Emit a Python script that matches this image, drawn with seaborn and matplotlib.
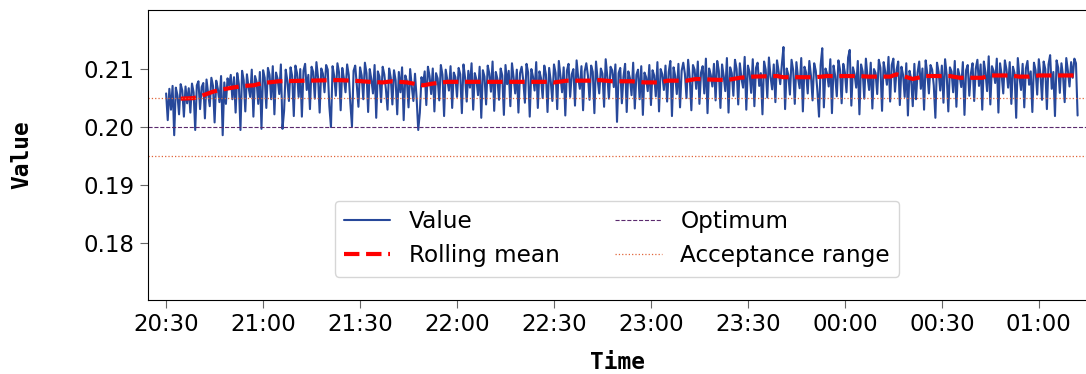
import pandas as pd
import matplotlib
matplotlib.use('Agg')
import matplotlib.pyplot as plt
import matplotlib.dates as mdates
import seaborn as sns

# raw readings, one every 30 s starting 20:30
values = [
    0.2058, 0.2012, 0.2066, 0.2030, 0.2071, 0.1986, 0.2068, 0.2055, 0.2022, 0.2074, 0.2063, 0.2018, 0.2070, 0.2041, 0.2067, 0.2025, 0.2075, 0.2060, 0.1995, 0.2072,
    0.2079, 0.2031, 0.2069, 0.2076, 0.2015, 0.2082, 0.2058, 0.2036, 0.2085, 0.2071, 0.2008, 0.2080, 0.2066, 0.2043, 0.2088, 0.1986, 0.2077, 0.2040, 0.2084, 0.2072,
    0.2090, 0.2048, 0.2086, 0.2025, 0.2093, 0.2074, 0.1995, 0.2097, 0.2081, 0.2027, 0.2091, 0.2069, 0.2052, 0.2099, 0.2018, 0.2088, 0.2078, 0.2040, 0.2095, 0.1997,
    0.2098, 0.2085, 0.2033, 0.2102, 0.2090, 0.2048, 0.2105, 0.2022, 0.2094, 0.2083, 0.2057, 0.2108, 0.1997, 0.2028, 0.2099, 0.2080, 0.2045, 0.2103, 0.2088, 0.2019,
    0.2106, 0.2093, 0.2052, 0.2100, 0.2018, 0.2097, 0.2109, 0.2064, 0.2090, 0.2031, 0.2104, 0.2095, 0.2049, 0.2112, 0.2086, 0.2025, 0.2101, 0.2092, 0.2060, 0.2107,
    0.2099, 0.2036, 0.2000, 0.2105, 0.2088, 0.2054, 0.2110, 0.2094, 0.2029, 0.2102, 0.2084, 0.2060, 0.2108, 0.2090, 0.2041, 0.2001, 0.2097, 0.2106, 0.2072, 0.2035,
    0.2103, 0.2089, 0.2048, 0.2111, 0.2093, 0.2026, 0.2100, 0.2082, 0.2058, 0.2107, 0.2016, 0.2096, 0.2087, 0.2043, 0.2104, 0.2091, 0.2065, 0.2030, 0.2101, 0.2085,
    0.2039, 0.2098, 0.2081, 0.2022, 0.2095, 0.2060, 0.2103, 0.2012, 0.2089, 0.2079, 0.2034, 0.2100, 0.2070, 0.2045, 0.2092, 0.2050, 0.1995, 0.2025, 0.2086, 0.2074,
    0.2096, 0.2038, 0.2104, 0.2088, 0.2057, 0.2101, 0.2027, 0.2093, 0.2084, 0.2046, 0.2107, 0.2090, 0.2019, 0.2099, 0.2081, 0.2063, 0.2105, 0.2033, 0.2094, 0.2086,
    0.2052, 0.2102, 0.2091, 0.2024, 0.2108, 0.2085, 0.2044, 0.2097, 0.2068, 0.2110, 0.2030, 0.2093, 0.2082, 0.2055, 0.2104, 0.2016, 0.2098, 0.2087, 0.2039, 0.2106,
    0.2092, 0.2061, 0.2113, 0.2028, 0.2095, 0.2083, 0.2047, 0.2101, 0.2089, 0.2021, 0.2107, 0.2074, 0.2097, 0.2036, 0.2110, 0.2086, 0.2058, 0.2099, 0.2025, 0.2093,
    0.2104, 0.2080, 0.2042, 0.2109, 0.2094, 0.2018, 0.2100, 0.2087, 0.2063, 0.2112, 0.2033, 0.2096, 0.2084, 0.2050, 0.2106, 0.2091, 0.2026, 0.2102, 0.2079, 0.2045,
    0.2108, 0.2093, 0.2031, 0.2114, 0.2088, 0.2060, 0.2103, 0.2020, 0.2097, 0.2109, 0.2052, 0.2091, 0.2100, 0.2037, 0.2115, 0.2085, 0.2066, 0.2105, 0.2029, 0.2096,
    0.2110, 0.2089, 0.2047, 0.2106, 0.2095, 0.2024, 0.2113, 0.2082, 0.2058, 0.2101, 0.2092, 0.2035, 0.2117, 0.2087, 0.2049, 0.2104, 0.2098, 0.2069, 0.2108, 0.2009,
    0.2093, 0.2102, 0.2041, 0.2087, 0.2109, 0.2026, 0.2096, 0.2084, 0.2055, 0.2111, 0.2032, 0.2090, 0.2099, 0.2048, 0.2105, 0.2021, 0.2094, 0.2086, 0.2062, 0.2107,
    0.2038, 0.2098, 0.2089, 0.2053, 0.2112, 0.2027, 0.2100, 0.2091, 0.2064, 0.2106, 0.2044, 0.2095, 0.2114, 0.2019, 0.2103, 0.2088, 0.2057, 0.2109, 0.2034, 0.2097,
    0.2111, 0.2092, 0.2050, 0.2116, 0.2085, 0.2029, 0.2107, 0.2099, 0.2066, 0.2113, 0.2040, 0.2094, 0.2105, 0.2058, 0.2118, 0.2024, 0.2101, 0.2090, 0.2070, 0.2109,
    0.2046, 0.2114, 0.2097, 0.2033, 0.2108, 0.2088, 0.2062, 0.2119, 0.2025, 0.2103, 0.2093, 0.2054, 0.2116, 0.2100, 0.2039, 0.2110, 0.2084, 0.2068, 0.2121, 0.2030,
    0.2106, 0.2095, 0.2059, 0.2117, 0.2036, 0.2102, 0.2111, 0.2071, 0.2093, 0.2022, 0.2113, 0.2099, 0.2051, 0.2120, 0.2087, 0.2065, 0.2108, 0.2043, 0.2115, 0.2096,
    0.2074, 0.2108, 0.2138, 0.2031, 0.2101, 0.2090, 0.2056, 0.2116, 0.2098, 0.2040, 0.2112, 0.2085, 0.2067, 0.2119, 0.2027, 0.2104, 0.2094, 0.2058, 0.2114, 0.2089,
    0.2046, 0.2110, 0.2097, 0.2062, 0.2018, 0.2107, 0.2136, 0.2034, 0.2101, 0.2092, 0.2070, 0.2117, 0.2024, 0.2106, 0.2088, 0.2053, 0.2115, 0.2099, 0.2041, 0.2109,
    0.2094, 0.2060, 0.2120, 0.2133, 0.2037, 0.2103, 0.2091, 0.2068, 0.2114, 0.2022, 0.2108, 0.2096, 0.2049, 0.2118, 0.2087, 0.2064, 0.2111, 0.2032, 0.2100, 0.2093,
    0.2057, 0.2116, 0.2102, 0.2028, 0.2112, 0.2095, 0.2073, 0.2121, 0.2044, 0.2107, 0.2118, 0.2061, 0.2099, 0.2113, 0.2038, 0.2104, 0.2090, 0.2052, 0.2110, 0.2020,
    0.2097, 0.2083, 0.2036, 0.2109, 0.2048, 0.2094, 0.2113, 0.2066, 0.2101, 0.2030, 0.2115, 0.2092, 0.2058, 0.2107, 0.2099, 0.2072, 0.2016, 0.2111, 0.2095, 0.2063,
    0.2106, 0.2042, 0.2117, 0.2090, 0.2027, 0.2103, 0.2096, 0.2060, 0.2114, 0.2035, 0.2100, 0.2088, 0.2069, 0.2112, 0.2021, 0.2098, 0.2107, 0.2054, 0.2093, 0.2110,
    0.2045, 0.2101, 0.2116, 0.2071, 0.2108, 0.2030, 0.2113, 0.2094, 0.2062, 0.2122, 0.2039, 0.2105, 0.2097, 0.2076, 0.2118, 0.2025, 0.2110, 0.2090, 0.2058, 0.2115,
    0.2099, 0.2068, 0.2112, 0.2040, 0.2104, 0.2093, 0.2016, 0.2119, 0.2087, 0.2064, 0.2109, 0.2034, 0.2101, 0.2114, 0.2073, 0.2096, 0.2026, 0.2111, 0.2098, 0.2056,
    0.2117, 0.2091, 0.2047, 0.2113, 0.2100, 0.2031, 0.2108, 0.2124, 0.2066, 0.2095, 0.2019, 0.2115, 0.2102, 0.2059, 0.2110, 0.2088, 0.2043, 0.2119, 0.2097, 0.2070,
    0.2112, 0.2085, 0.2118, 0.2110, 0.2020,
]

# rolling mean (minutes after 20:30)
roll_minutes = [4.5, 8.5, 11.5, 14.5, 17.5, 20.5, 24, 27, 30, 35, 43.5, 53, 58, 63, 67, 70, 74.5,
                79.5, 82.5, 87, 110, 119, 120, 124, 132, 134, 138, 144, 148, 153, 155, 161, 164,
                168, 173.5, 177.5, 181.5, 189, 191, 201, 204.5, 214.5, 217, 224, 226, 231, 235,
                242.5, 245.5, 252.5, 255, 261, 264, 267, 270, 282]
roll_values = [0.2049, 0.2050, 0.2055, 0.2061, 0.2065, 0.2068, 0.2071, 0.2072, 0.2076, 0.2079,
               0.2080, 0.2081, 0.2080, 0.2078, 0.2077, 0.2079, 0.2077, 0.2072, 0.2075, 0.2078,
               0.2078, 0.2078, 0.2077, 0.2080, 0.2080, 0.2081, 0.2079, 0.2079, 0.2077, 0.2077,
               0.2080, 0.2080, 0.2083, 0.2082, 0.2081, 0.2085, 0.2087, 0.2088, 0.2086, 0.2086,
               0.2088, 0.2088, 0.2087, 0.2087, 0.2091, 0.2083, 0.2088, 0.2088, 0.2085, 0.2085,
               0.2089, 0.2089, 0.2087, 0.2087, 0.2089, 0.2089]

optimum = 0.200
acceptance = [0.195, 0.205]

start = pd.Timestamp('2024-01-01 20:30')
df = pd.DataFrame({'time': pd.date_range(start, periods=len(values), freq='30s'),
                   'value': values})
roll = pd.DataFrame({'time': start + pd.to_timedelta(roll_minutes, unit='min'),
                     'value': roll_values})

sns.set_style('ticks')
plt.rcParams['text.color'] = 'black'
plt.rcParams['xtick.labelcolor'] = 'black'
plt.rcParams['ytick.labelcolor'] = 'black'
plt.rcParams['axes.labelcolor'] = 'black'

fig = plt.figure(figsize=(10.86, 3.74), dpi=100)
ax = fig.add_axes([0.1363, 0.198, 0.8637, 0.7755])

sns.lineplot(data=df, x='time', y='value', ax=ax, color='#27489a', lw=1.5,
             label='Value')
sns.lineplot(data=roll, x='time', y='value', ax=ax, color='red', lw=3,
             ls='--', label='Rolling mean')
ax.axhline(optimum, color='#5b2a6e', ls='--', lw=0.8, label='Optimum')
ax.axhline(acceptance[0], color='#e0653a', ls=':', lw=0.9, label='Acceptance range')
ax.axhline(acceptance[1], color='#e0653a', ls=':', lw=0.9)

ax.set_ylim(0.1702, 0.2202)
ax.set_yticks([0.18, 0.19, 0.20, 0.21])
ax.yaxis.set_major_formatter(matplotlib.ticker.FormatStrFormatter('%.2f'))
ax.set_xlim(start - pd.Timedelta(minutes=5.6), start + pd.Timedelta(minutes=284.6))
ax.xaxis.set_major_locator(mdates.MinuteLocator(byminute=[0, 30]))
ax.xaxis.set_major_formatter(mdates.DateFormatter('%H:%M'))

ax.tick_params(labelsize=16.5, length=6, color='#666666', labelcolor='black')
ax.set_xlabel('Time', fontsize=16.5, family='DejaVu Sans Mono', weight='bold',
              labelpad=11, color='black')
ax.set_ylabel('Value', fontsize=16.5, family='DejaVu Sans Mono', weight='bold',
              labelpad=36, color='black')
ax.spines['right'].set_visible(False)
for s in ['top', 'left', 'bottom']:
    ax.spines[s].set_color('black')

ax.legend(loc='lower center', bbox_to_anchor=(0.5, 0.04), ncol=2, fontsize=16.7,
          columnspacing=2.4)

fig.savefig('out.png', dpi=100)
